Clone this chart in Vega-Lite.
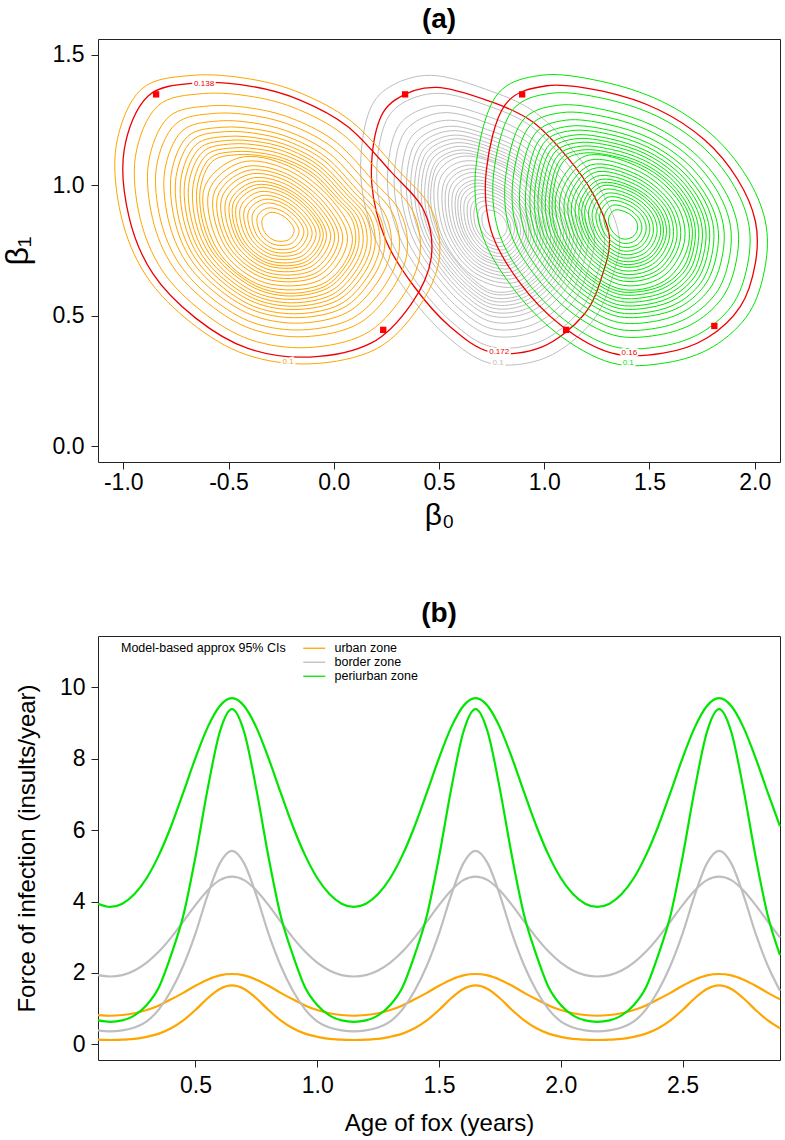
{
"$schema": "https://vega.github.io/schema/vega-lite/v6.json",
"padding": {"left": 0, "top": 5, "right": 0, "bottom": 0},
"bounds": "flush",
"spacing": 174,
"resolve": {"scale": {"color": "independent"}, "legend": {"color": "independent"}},
"config": {
  "font": "Liberation Sans",
  "view": {"stroke": "#222", "strokeWidth": 1},
  "axis": {"grid": false, "domain": false, "tickColor": "#222", "tickSize": 7, "labelColor": "#000", "titleColor": "#000", "titleFontWeight": "normal", "labelFontSize": 23, "titleFontSize": 24, "labelFlush": false},
  "title": {"fontSize": 28, "fontWeight": "bold", "color": "#000", "anchor": "middle", "frame": "group"}
},
"datasets": {
"u": [
{"l":0.1,"x":-0.668,"y":1.421},{"l":0.1,"x":-0.392,"y":1.406},{"l":0.1,"x":-0.155,"y":1.352},{"l":0.1,"x":0.083,"y":1.245},{"l":0.1,"x":0.297,"y":1.065},{"l":0.1,"x":0.463,"y":0.909},{"l":0.1,"x":0.501,"y":0.717},{"l":0.1,"x":0.401,"y":0.530},{"l":0.1,"x":0.202,"y":0.373},{"l":0.1,"x":-0.107,"y":0.316},{"l":0.1,"x":-0.416,"y":0.351},{"l":0.1,"x":-0.677,"y":0.473},{"l":0.1,"x":-0.891,"y":0.653},{"l":0.1,"x":-1.010,"y":0.882},{"l":0.1,"x":-1.034,"y":1.149},{"l":0.1,"x":-0.915,"y":1.367},
{"l":0.2,"x":-0.620,"y":1.351},{"l":0.2,"x":-0.377,"y":1.338},{"l":0.2,"x":-0.168,"y":1.290},{"l":0.2,"x":0.041,"y":1.196},{"l":0.2,"x":0.230,"y":1.038},{"l":0.2,"x":0.376,"y":0.900},{"l":0.2,"x":0.409,"y":0.731},{"l":0.2,"x":0.321,"y":0.567},{"l":0.2,"x":0.146,"y":0.429},{"l":0.2,"x":-0.126,"y":0.378},{"l":0.2,"x":-0.398,"y":0.409},{"l":0.2,"x":-0.627,"y":0.517},{"l":0.2,"x":-0.816,"y":0.675},{"l":0.2,"x":-0.921,"y":0.877},{"l":0.2,"x":-0.942,"y":1.111},{"l":0.2,"x":-0.837,"y":1.303},
{"l":0.3,"x":-0.587,"y":1.304},{"l":0.3,"x":-0.366,"y":1.292},{"l":0.3,"x":-0.177,"y":1.249},{"l":0.3,"x":0.014,"y":1.163},{"l":0.3,"x":0.185,"y":1.019},{"l":0.3,"x":0.318,"y":0.894},{"l":0.3,"x":0.348,"y":0.741},{"l":0.3,"x":0.268,"y":0.591},{"l":0.3,"x":0.109,"y":0.466},{"l":0.3,"x":-0.138,"y":0.420},{"l":0.3,"x":-0.386,"y":0.448},{"l":0.3,"x":-0.594,"y":0.546},{"l":0.3,"x":-0.766,"y":0.690},{"l":0.3,"x":-0.861,"y":0.873},{"l":0.3,"x":-0.880,"y":1.086},{"l":0.3,"x":-0.785,"y":1.261},
{"l":0.4,"x":-0.567,"y":1.275},{"l":0.4,"x":-0.360,"y":1.264},{"l":0.4,"x":-0.182,"y":1.223},{"l":0.4,"x":-0.004,"y":1.143},{"l":0.4,"x":0.157,"y":1.008},{"l":0.4,"x":0.281,"y":0.891},{"l":0.4,"x":0.310,"y":0.747},{"l":0.4,"x":0.235,"y":0.607},{"l":0.4,"x":0.086,"y":0.489},{"l":0.4,"x":-0.146,"y":0.446},{"l":0.4,"x":-0.378,"y":0.472},{"l":0.4,"x":-0.574,"y":0.564},{"l":0.4,"x":-0.734,"y":0.699},{"l":0.4,"x":-0.824,"y":0.871},{"l":0.4,"x":-0.842,"y":1.071},{"l":0.4,"x":-0.752,"y":1.234},
{"l":0.5,"x":-0.547,"y":1.246},{"l":0.5,"x":-0.354,"y":1.235},{"l":0.5,"x":-0.188,"y":1.197},{"l":0.5,"x":-0.021,"y":1.122},{"l":0.5,"x":0.129,"y":0.996},{"l":0.5,"x":0.245,"y":0.887},{"l":0.5,"x":0.272,"y":0.753},{"l":0.5,"x":0.202,"y":0.622},{"l":0.5,"x":0.062,"y":0.512},{"l":0.5,"x":-0.154,"y":0.472},{"l":0.5,"x":-0.370,"y":0.497},{"l":0.5,"x":-0.553,"y":0.582},{"l":0.5,"x":-0.703,"y":0.708},{"l":0.5,"x":-0.786,"y":0.868},{"l":0.5,"x":-0.803,"y":1.055},{"l":0.5,"x":-0.720,"y":1.208},
{"l":0.6,"x":-0.531,"y":1.222},{"l":0.6,"x":-0.349,"y":1.212},{"l":0.6,"x":-0.192,"y":1.177},{"l":0.6,"x":-0.035,"y":1.106},{"l":0.6,"x":0.106,"y":0.987},{"l":0.6,"x":0.216,"y":0.884},{"l":0.6,"x":0.241,"y":0.758},{"l":0.6,"x":0.175,"y":0.634},{"l":0.6,"x":0.044,"y":0.530},{"l":0.6,"x":-0.160,"y":0.493},{"l":0.6,"x":-0.364,"y":0.516},{"l":0.6,"x":-0.537,"y":0.596},{"l":0.6,"x":-0.678,"y":0.715},{"l":0.6,"x":-0.756,"y":0.866},{"l":0.6,"x":-0.772,"y":1.043},{"l":0.6,"x":-0.694,"y":1.187},
{"l":0.7,"x":-0.519,"y":1.205},{"l":0.7,"x":-0.345,"y":1.195},{"l":0.7,"x":-0.195,"y":1.161},{"l":0.7,"x":-0.045,"y":1.094},{"l":0.7,"x":0.089,"y":0.980},{"l":0.7,"x":0.194,"y":0.882},{"l":0.7,"x":0.218,"y":0.761},{"l":0.7,"x":0.155,"y":0.643},{"l":0.7,"x":0.030,"y":0.544},{"l":0.7,"x":-0.165,"y":0.508},{"l":0.7,"x":-0.360,"y":0.530},{"l":0.7,"x":-0.524,"y":0.607},{"l":0.7,"x":-0.659,"y":0.721},{"l":0.7,"x":-0.734,"y":0.865},{"l":0.7,"x":-0.749,"y":1.033},{"l":0.7,"x":-0.674,"y":1.171},
{"l":0.8,"x":-0.506,"y":1.187},{"l":0.8,"x":-0.341,"y":1.178},{"l":0.8,"x":-0.199,"y":1.146},{"l":0.8,"x":-0.056,"y":1.081},{"l":0.8,"x":0.073,"y":0.973},{"l":0.8,"x":0.172,"y":0.880},{"l":0.8,"x":0.195,"y":0.765},{"l":0.8,"x":0.135,"y":0.652},{"l":0.8,"x":0.016,"y":0.558},{"l":0.8,"x":-0.170,"y":0.524},{"l":0.8,"x":-0.355,"y":0.545},{"l":0.8,"x":-0.512,"y":0.618},{"l":0.8,"x":-0.640,"y":0.726},{"l":0.8,"x":-0.712,"y":0.864},{"l":0.8,"x":-0.726,"y":1.024},{"l":0.8,"x":-0.655,"y":1.155},
{"l":0.9,"x":-0.496,"y":1.172},{"l":0.9,"x":-0.338,"y":1.164},{"l":0.9,"x":-0.201,"y":1.133},{"l":0.9,"x":-0.065,"y":1.071},{"l":0.9,"x":0.059,"y":0.968},{"l":0.9,"x":0.154,"y":0.878},{"l":0.9,"x":0.176,"y":0.768},{"l":0.9,"x":0.118,"y":0.660},{"l":0.9,"x":0.004,"y":0.570},{"l":0.9,"x":-0.174,"y":0.537},{"l":0.9,"x":-0.351,"y":0.557},{"l":0.9,"x":-0.502,"y":0.627},{"l":0.9,"x":-0.625,"y":0.731},{"l":0.9,"x":-0.693,"y":0.863},{"l":0.9,"x":-0.707,"y":1.016},{"l":0.9,"x":-0.638,"y":1.141},
{"l":1.0,"x":-0.486,"y":1.158},{"l":1.0,"x":-0.334,"y":1.150},{"l":1.0,"x":-0.204,"y":1.120},{"l":1.0,"x":-0.073,"y":1.061},{"l":1.0,"x":0.045,"y":0.962},{"l":1.0,"x":0.136,"y":0.876},{"l":1.0,"x":0.157,"y":0.771},{"l":1.0,"x":0.102,"y":0.668},{"l":1.0,"x":-0.008,"y":0.581},{"l":1.0,"x":-0.178,"y":0.550},{"l":1.0,"x":-0.348,"y":0.569},{"l":1.0,"x":-0.491,"y":0.636},{"l":1.0,"x":-0.609,"y":0.735},{"l":1.0,"x":-0.674,"y":0.861},{"l":1.0,"x":-0.688,"y":1.008},{"l":1.0,"x":-0.622,"y":1.128},
{"l":1.1,"x":-0.476,"y":1.143},{"l":1.1,"x":-0.331,"y":1.135},{"l":1.1,"x":-0.207,"y":1.107},{"l":1.1,"x":-0.082,"y":1.051},{"l":1.1,"x":0.031,"y":0.956},{"l":1.1,"x":0.118,"y":0.874},{"l":1.1,"x":0.138,"y":0.774},{"l":1.1,"x":0.085,"y":0.675},{"l":1.1,"x":-0.019,"y":0.593},{"l":1.1,"x":-0.182,"y":0.563},{"l":1.1,"x":-0.344,"y":0.581},{"l":1.1,"x":-0.481,"y":0.645},{"l":1.1,"x":-0.593,"y":0.740},{"l":1.1,"x":-0.656,"y":0.860},{"l":1.1,"x":-0.668,"y":1.000},{"l":1.1,"x":-0.606,"y":1.115},
{"l":1.2,"x":-0.466,"y":1.129},{"l":1.2,"x":-0.328,"y":1.121},{"l":1.2,"x":-0.210,"y":1.094},{"l":1.2,"x":-0.091,"y":1.041},{"l":1.2,"x":0.017,"y":0.951},{"l":1.2,"x":0.100,"y":0.873},{"l":1.2,"x":0.119,"y":0.777},{"l":1.2,"x":0.069,"y":0.683},{"l":1.2,"x":-0.031,"y":0.605},{"l":1.2,"x":-0.186,"y":0.576},{"l":1.2,"x":-0.340,"y":0.594},{"l":1.2,"x":-0.471,"y":0.655},{"l":1.2,"x":-0.578,"y":0.745},{"l":1.2,"x":-0.637,"y":0.859},{"l":1.2,"x":-0.649,"y":0.993},{"l":1.2,"x":-0.590,"y":1.102},
{"l":1.3,"x":-0.458,"y":1.117},{"l":1.3,"x":-0.325,"y":1.110},{"l":1.3,"x":-0.212,"y":1.084},{"l":1.3,"x":-0.097,"y":1.032},{"l":1.3,"x":0.005,"y":0.946},{"l":1.3,"x":0.085,"y":0.871},{"l":1.3,"x":0.103,"y":0.779},{"l":1.3,"x":0.055,"y":0.689},{"l":1.3,"x":-0.040,"y":0.614},{"l":1.3,"x":-0.189,"y":0.586},{"l":1.3,"x":-0.337,"y":0.603},{"l":1.3,"x":-0.462,"y":0.662},{"l":1.3,"x":-0.565,"y":0.748},{"l":1.3,"x":-0.622,"y":0.858},{"l":1.3,"x":-0.634,"y":0.986},{"l":1.3,"x":-0.577,"y":1.091},
{"l":1.4,"x":-0.450,"y":1.105},{"l":1.4,"x":-0.214,"y":1.073},{"l":1.4,"x":-0.006,"y":0.941},{"l":1.4,"x":0.088,"y":0.781},{"l":1.4,"x":-0.050,"y":0.623},{"l":1.4,"x":-0.334,"y":0.613},{"l":1.4,"x":-0.552,"y":0.752},{"l":1.4,"x":-0.618,"y":0.980},
{"l":1.55,"x":-0.438,"y":1.088},{"l":1.55,"x":-0.217,"y":1.058},{"l":1.55,"x":-0.023,"y":0.935},{"l":1.55,"x":0.065,"y":0.785},{"l":1.55,"x":-0.064,"y":0.637},{"l":1.55,"x":-0.329,"y":0.627},{"l":1.55,"x":-0.534,"y":0.757},{"l":1.55,"x":-0.595,"y":0.971},
{"l":1.7,"x":-0.426,"y":1.070},{"l":1.7,"x":-0.220,"y":1.042},{"l":1.7,"x":-0.040,"y":0.928},{"l":1.7,"x":0.042,"y":0.788},{"l":1.7,"x":-0.078,"y":0.651},{"l":1.7,"x":-0.325,"y":0.642},{"l":1.7,"x":-0.515,"y":0.763},{"l":1.7,"x":-0.572,"y":0.961},
{"l":1.85,"x":-0.416,"y":1.055},{"l":1.85,"x":-0.223,"y":1.030},{"l":1.85,"x":-0.054,"y":0.922},{"l":1.85,"x":0.023,"y":0.791},{"l":1.85,"x":-0.089,"y":0.662},{"l":1.85,"x":-0.321,"y":0.654},{"l":1.85,"x":-0.499,"y":0.767},{"l":1.85,"x":-0.553,"y":0.953},
{"l":2.0,"x":-0.405,"y":1.041},{"l":2.0,"x":-0.226,"y":1.017},{"l":2.0,"x":-0.068,"y":0.916},{"l":2.0,"x":0.004,"y":0.794},{"l":2.0,"x":-0.101,"y":0.674},{"l":2.0,"x":-0.317,"y":0.666},{"l":2.0,"x":-0.484,"y":0.772},{"l":2.0,"x":-0.534,"y":0.946},
{"l":2.15,"x":-0.395,"y":1.026},{"l":2.15,"x":-0.229,"y":1.004},{"l":2.15,"x":-0.082,"y":0.910},{"l":2.15,"x":-0.015,"y":0.797},{"l":2.15,"x":-0.113,"y":0.686},{"l":2.15,"x":-0.313,"y":0.678},{"l":2.15,"x":-0.468,"y":0.777},{"l":2.15,"x":-0.514,"y":0.938},
{"l":2.3,"x":-0.385,"y":1.012},{"l":2.3,"x":-0.231,"y":0.991},{"l":2.3,"x":-0.096,"y":0.905},{"l":2.3,"x":-0.035,"y":0.800},{"l":2.3,"x":-0.124,"y":0.697},{"l":2.3,"x":-0.310,"y":0.691},{"l":2.3,"x":-0.452,"y":0.781},{"l":2.3,"x":-0.495,"y":0.930},
{"l":2.45,"x":-0.377,"y":1.000},{"l":2.45,"x":-0.234,"y":0.981},{"l":2.45,"x":-0.107,"y":0.900},{"l":2.45,"x":-0.050,"y":0.803},{"l":2.45,"x":-0.134,"y":0.706},{"l":2.45,"x":-0.307,"y":0.700},{"l":2.45,"x":-0.440,"y":0.785},{"l":2.45,"x":-0.480,"y":0.924},
{"l":2.6,"x":-0.369,"y":0.988},{"l":2.6,"x":-0.236,"y":0.970},{"l":2.6,"x":-0.118,"y":0.896},{"l":2.6,"x":-0.065,"y":0.805},{"l":2.6,"x":-0.143,"y":0.716},{"l":2.6,"x":-0.304,"y":0.710},{"l":2.6,"x":-0.427,"y":0.788},{"l":2.6,"x":-0.464,"y":0.917},
{"l":2.75,"x":-0.359,"y":0.974},{"l":2.75,"x":-0.238,"y":0.957},{"l":2.75,"x":-0.132,"y":0.890},{"l":2.75,"x":-0.084,"y":0.808},{"l":2.75,"x":-0.155,"y":0.727},{"l":2.75,"x":-0.300,"y":0.722},{"l":2.75,"x":-0.411,"y":0.793},{"l":2.75,"x":-0.445,"y":0.910},
{"l":2.9,"x":-0.349,"y":0.959},{"l":2.9,"x":-0.241,"y":0.944},{"l":2.9,"x":-0.146,"y":0.884},{"l":2.9,"x":-0.103,"y":0.811},{"l":2.9,"x":-0.166,"y":0.739},{"l":2.9,"x":-0.296,"y":0.734},{"l":2.9,"x":-0.396,"y":0.798},{"l":2.9,"x":-0.426,"y":0.902},
{"l":3.05,"x":-0.339,"y":0.944},{"l":3.05,"x":-0.244,"y":0.932},{"l":3.05,"x":-0.160,"y":0.878},{"l":3.05,"x":-0.123,"y":0.814},{"l":3.05,"x":-0.178,"y":0.750},{"l":3.05,"x":-0.292,"y":0.746},{"l":3.05,"x":-0.380,"y":0.802},{"l":3.05,"x":-0.407,"y":0.894},
{"l":3.2,"x":-0.329,"y":0.930},{"l":3.2,"x":-0.247,"y":0.919},{"l":3.2,"x":-0.174,"y":0.873},{"l":3.2,"x":-0.142,"y":0.817},{"l":3.2,"x":-0.189,"y":0.762},{"l":3.2,"x":-0.288,"y":0.758},{"l":3.2,"x":-0.364,"y":0.807},{"l":3.2,"x":-0.387,"y":0.886},
{"l":3.35,"x":-0.317,"y":0.912},{"l":3.35,"x":-0.250,"y":0.903},{"l":3.35,"x":-0.191,"y":0.866},{"l":3.35,"x":-0.165,"y":0.821},{"l":3.35,"x":-0.203,"y":0.776},{"l":3.35,"x":-0.284,"y":0.773},{"l":3.35,"x":-0.346,"y":0.812},{"l":3.35,"x":-0.364,"y":0.877},
{"l":3.5,"x":-0.304,"y":0.895},{"l":3.5,"x":-0.253,"y":0.888},{"l":3.5,"x":-0.208,"y":0.859},{"l":3.5,"x":-0.188,"y":0.824},{"l":3.5,"x":-0.217,"y":0.790},{"l":3.5,"x":-0.279,"y":0.788},{"l":3.5,"x":-0.327,"y":0.818},{"l":3.5,"x":-0.341,"y":0.867}
],
"b": [
{"l":0.1,"x":0.463,"y":1.421},{"l":0.1,"x":0.748,"y":1.360},{"l":0.1,"x":0.962,"y":1.276},{"l":0.1,"x":1.142,"y":1.127},{"l":0.1,"x":1.271,"y":0.978},{"l":0.1,"x":1.356,"y":0.802},{"l":0.1,"x":1.318,"y":0.634},{"l":0.1,"x":1.223,"y":0.473},{"l":0.1,"x":1.009,"y":0.340},{"l":0.1,"x":0.748,"y":0.317},{"l":0.1,"x":0.534,"y":0.424},{"l":0.1,"x":0.344,"y":0.596},{"l":0.1,"x":0.201,"y":0.787},{"l":0.1,"x":0.130,"y":1.016},{"l":0.1,"x":0.154,"y":1.246},{"l":0.1,"x":0.249,"y":1.368},
{"l":0.2,"x":0.500,"y":1.352},{"l":0.2,"x":0.750,"y":1.299},{"l":0.2,"x":0.939,"y":1.225},{"l":0.2,"x":1.097,"y":1.094},{"l":0.2,"x":1.211,"y":0.962},{"l":0.2,"x":1.285,"y":0.808},{"l":0.2,"x":1.252,"y":0.660},{"l":0.2,"x":1.168,"y":0.518},{"l":0.2,"x":0.980,"y":0.401},{"l":0.2,"x":0.750,"y":0.381},{"l":0.2,"x":0.562,"y":0.475},{"l":0.2,"x":0.395,"y":0.626},{"l":0.2,"x":0.269,"y":0.794},{"l":0.2,"x":0.206,"y":0.996},{"l":0.2,"x":0.228,"y":1.198},{"l":0.2,"x":0.311,"y":1.306},
{"l":0.3,"x":0.524,"y":1.306},{"l":0.3,"x":0.752,"y":1.258},{"l":0.3,"x":0.923,"y":1.190},{"l":0.3,"x":1.067,"y":1.071},{"l":0.3,"x":1.170,"y":0.952},{"l":0.3,"x":1.238,"y":0.811},{"l":0.3,"x":1.208,"y":0.677},{"l":0.3,"x":1.132,"y":0.548},{"l":0.3,"x":0.961,"y":0.442},{"l":0.3,"x":0.752,"y":0.423},{"l":0.3,"x":0.581,"y":0.509},{"l":0.3,"x":0.429,"y":0.646},{"l":0.3,"x":0.314,"y":0.799},{"l":0.3,"x":0.257,"y":0.982},{"l":0.3,"x":0.277,"y":1.166},{"l":0.3,"x":0.353,"y":1.264},
{"l":0.4,"x":0.539,"y":1.278},{"l":0.4,"x":0.753,"y":1.232},{"l":0.4,"x":0.913,"y":1.169},{"l":0.4,"x":1.048,"y":1.057},{"l":0.4,"x":1.145,"y":0.946},{"l":0.4,"x":1.209,"y":0.814},{"l":0.4,"x":1.180,"y":0.688},{"l":0.4,"x":1.109,"y":0.567},{"l":0.4,"x":0.949,"y":0.467},{"l":0.4,"x":0.753,"y":0.450},{"l":0.4,"x":0.592,"y":0.530},{"l":0.4,"x":0.450,"y":0.659},{"l":0.4,"x":0.343,"y":0.802},{"l":0.4,"x":0.289,"y":0.974},{"l":0.4,"x":0.307,"y":1.147},{"l":0.4,"x":0.379,"y":1.238},
{"l":0.5,"x":0.554,"y":1.249},{"l":0.5,"x":0.754,"y":1.206},{"l":0.5,"x":0.904,"y":1.148},{"l":0.5,"x":1.030,"y":1.043},{"l":0.5,"x":1.120,"y":0.939},{"l":0.5,"x":1.179,"y":0.816},{"l":0.5,"x":1.153,"y":0.698},{"l":0.5,"x":1.086,"y":0.586},{"l":0.5,"x":0.936,"y":0.492},{"l":0.5,"x":0.754,"y":0.476},{"l":0.5,"x":0.604,"y":0.551},{"l":0.5,"x":0.471,"y":0.672},{"l":0.5,"x":0.371,"y":0.805},{"l":0.5,"x":0.321,"y":0.966},{"l":0.5,"x":0.338,"y":1.127},{"l":0.5,"x":0.404,"y":1.212},
{"l":0.6,"x":0.566,"y":1.226},{"l":0.6,"x":0.755,"y":1.186},{"l":0.6,"x":0.896,"y":1.131},{"l":0.6,"x":1.015,"y":1.032},{"l":0.6,"x":1.100,"y":0.934},{"l":0.6,"x":1.156,"y":0.818},{"l":0.6,"x":1.131,"y":0.707},{"l":0.6,"x":1.068,"y":0.601},{"l":0.6,"x":0.927,"y":0.513},{"l":0.6,"x":0.755,"y":0.498},{"l":0.6,"x":0.613,"y":0.568},{"l":0.6,"x":0.488,"y":0.682},{"l":0.6,"x":0.393,"y":0.808},{"l":0.6,"x":0.347,"y":0.959},{"l":0.6,"x":0.362,"y":1.111},{"l":0.6,"x":0.425,"y":1.191},
{"l":0.7,"x":0.576,"y":1.209},{"l":0.7,"x":0.755,"y":1.171},{"l":0.7,"x":0.890,"y":1.118},{"l":0.7,"x":1.003,"y":1.024},{"l":0.7,"x":1.085,"y":0.930},{"l":0.7,"x":1.138,"y":0.819},{"l":0.7,"x":1.114,"y":0.713},{"l":0.7,"x":1.054,"y":0.612},{"l":0.7,"x":0.920,"y":0.528},{"l":0.7,"x":0.755,"y":0.514},{"l":0.7,"x":0.620,"y":0.581},{"l":0.7,"x":0.501,"y":0.689},{"l":0.7,"x":0.410,"y":0.810},{"l":0.7,"x":0.366,"y":0.954},{"l":0.7,"x":0.381,"y":1.099},{"l":0.7,"x":0.441,"y":1.176},
{"l":0.8,"x":0.585,"y":1.192},{"l":0.8,"x":0.756,"y":1.155},{"l":0.8,"x":0.884,"y":1.105},{"l":0.8,"x":0.992,"y":1.015},{"l":0.8,"x":1.069,"y":0.926},{"l":0.8,"x":1.120,"y":0.820},{"l":0.8,"x":1.098,"y":0.720},{"l":0.8,"x":1.041,"y":0.623},{"l":0.8,"x":0.912,"y":0.543},{"l":0.8,"x":0.756,"y":0.529},{"l":0.8,"x":0.627,"y":0.594},{"l":0.8,"x":0.513,"y":0.697},{"l":0.8,"x":0.427,"y":0.811},{"l":0.8,"x":0.385,"y":0.949},{"l":0.8,"x":0.399,"y":1.087},{"l":0.8,"x":0.456,"y":1.160},
{"l":0.9,"x":0.592,"y":1.178},{"l":0.9,"x":0.756,"y":1.142},{"l":0.9,"x":0.879,"y":1.094},{"l":0.9,"x":0.983,"y":1.008},{"l":0.9,"x":1.057,"y":0.923},{"l":0.9,"x":1.106,"y":0.822},{"l":0.9,"x":1.084,"y":0.725},{"l":0.9,"x":1.029,"y":0.632},{"l":0.9,"x":0.906,"y":0.556},{"l":0.9,"x":0.756,"y":0.543},{"l":0.9,"x":0.633,"y":0.604},{"l":0.9,"x":0.524,"y":0.703},{"l":0.9,"x":0.442,"y":0.813},{"l":0.9,"x":0.401,"y":0.945},{"l":0.9,"x":0.415,"y":1.077},{"l":0.9,"x":0.469,"y":1.147},
{"l":1.0,"x":0.600,"y":1.163},{"l":1.0,"x":0.757,"y":1.130},{"l":1.0,"x":0.874,"y":1.083},{"l":1.0,"x":0.973,"y":1.002},{"l":1.0,"x":1.044,"y":0.920},{"l":1.0,"x":1.091,"y":0.823},{"l":1.0,"x":1.070,"y":0.730},{"l":1.0,"x":1.018,"y":0.642},{"l":1.0,"x":0.900,"y":0.569},{"l":1.0,"x":0.757,"y":0.556},{"l":1.0,"x":0.639,"y":0.615},{"l":1.0,"x":0.534,"y":0.709},{"l":1.0,"x":0.456,"y":0.814},{"l":1.0,"x":0.417,"y":0.940},{"l":1.0,"x":0.430,"y":1.067},{"l":1.0,"x":0.482,"y":1.134},
{"l":1.1,"x":0.607,"y":1.149},{"l":1.1,"x":0.757,"y":1.117},{"l":1.1,"x":0.869,"y":1.073},{"l":1.1,"x":0.964,"y":0.995},{"l":1.1,"x":1.032,"y":0.916},{"l":1.1,"x":1.076,"y":0.824},{"l":1.1,"x":1.056,"y":0.736},{"l":1.1,"x":1.006,"y":0.651},{"l":1.1,"x":0.894,"y":0.581},{"l":1.1,"x":0.757,"y":0.569},{"l":1.1,"x":0.645,"y":0.625},{"l":1.1,"x":0.545,"y":0.716},{"l":1.1,"x":0.470,"y":0.816},{"l":1.1,"x":0.433,"y":0.936},{"l":1.1,"x":0.445,"y":1.057},{"l":1.1,"x":0.495,"y":1.121},
{"l":1.2,"x":0.615,"y":1.135},{"l":1.2,"x":0.758,"y":1.104},{"l":1.2,"x":0.865,"y":1.062},{"l":1.2,"x":0.955,"y":0.988},{"l":1.2,"x":1.019,"y":0.913},{"l":1.2,"x":1.062,"y":0.825},{"l":1.2,"x":1.043,"y":0.741},{"l":1.2,"x":0.995,"y":0.661},{"l":1.2,"x":0.888,"y":0.594},{"l":1.2,"x":0.758,"y":0.583},{"l":1.2,"x":0.651,"y":0.636},{"l":1.2,"x":0.556,"y":0.722},{"l":1.2,"x":0.484,"y":0.818},{"l":1.2,"x":0.449,"y":0.932},{"l":1.2,"x":0.461,"y":1.047},{"l":1.2,"x":0.508,"y":1.108},
{"l":1.3,"x":0.621,"y":1.123},{"l":1.3,"x":0.758,"y":1.094},{"l":1.3,"x":0.861,"y":1.053},{"l":1.3,"x":0.947,"y":0.982},{"l":1.3,"x":1.009,"y":0.910},{"l":1.3,"x":1.050,"y":0.826},{"l":1.3,"x":1.032,"y":0.745},{"l":1.3,"x":0.986,"y":0.668},{"l":1.3,"x":0.883,"y":0.604},{"l":1.3,"x":0.758,"y":0.593},{"l":1.3,"x":0.655,"y":0.645},{"l":1.3,"x":0.564,"y":0.727},{"l":1.3,"x":0.495,"y":0.819},{"l":1.3,"x":0.461,"y":0.929},{"l":1.3,"x":0.473,"y":1.039},{"l":1.3,"x":0.518,"y":1.098},
{"l":1.4,"x":0.627,"y":1.112},{"l":1.4,"x":0.857,"y":1.045},{"l":1.4,"x":0.999,"y":0.908},{"l":1.4,"x":1.021,"y":0.750},{"l":1.4,"x":0.878,"y":0.614},{"l":1.4,"x":0.660,"y":0.653},{"l":1.4,"x":0.507,"y":0.820},{"l":1.4,"x":0.485,"y":1.031},
{"l":1.55,"x":0.636,"y":1.094},{"l":1.55,"x":0.851,"y":1.032},{"l":1.55,"x":0.984,"y":0.904},{"l":1.55,"x":1.004,"y":0.756},{"l":1.55,"x":0.871,"y":0.630},{"l":1.55,"x":0.667,"y":0.666},{"l":1.55,"x":0.524,"y":0.822},{"l":1.55,"x":0.503,"y":1.019},
{"l":1.7,"x":0.645,"y":1.077},{"l":1.7,"x":0.845,"y":1.019},{"l":1.7,"x":0.969,"y":0.900},{"l":1.7,"x":0.987,"y":0.762},{"l":1.7,"x":0.864,"y":0.645},{"l":1.7,"x":0.674,"y":0.678},{"l":1.7,"x":0.541,"y":0.824},{"l":1.7,"x":0.522,"y":1.007},
{"l":1.85,"x":0.653,"y":1.063},{"l":1.85,"x":0.840,"y":1.009},{"l":1.85,"x":0.956,"y":0.897},{"l":1.85,"x":0.974,"y":0.768},{"l":1.85,"x":0.858,"y":0.658},{"l":1.85,"x":0.680,"y":0.689},{"l":1.85,"x":0.555,"y":0.825},{"l":1.85,"x":0.537,"y":0.997},
{"l":2.0,"x":0.661,"y":1.049},{"l":2.0,"x":0.835,"y":0.998},{"l":2.0,"x":0.943,"y":0.894},{"l":2.0,"x":0.960,"y":0.773},{"l":2.0,"x":0.852,"y":0.670},{"l":2.0,"x":0.685,"y":0.700},{"l":2.0,"x":0.569,"y":0.827},{"l":2.0,"x":0.552,"y":0.987},
{"l":2.15,"x":0.668,"y":1.034},{"l":2.15,"x":0.830,"y":0.987},{"l":2.15,"x":0.931,"y":0.890},{"l":2.15,"x":0.946,"y":0.778},{"l":2.15,"x":0.846,"y":0.683},{"l":2.15,"x":0.691,"y":0.710},{"l":2.15,"x":0.583,"y":0.828},{"l":2.15,"x":0.568,"y":0.977},
{"l":2.3,"x":0.676,"y":1.020},{"l":2.3,"x":0.826,"y":0.976},{"l":2.3,"x":0.918,"y":0.887},{"l":2.3,"x":0.932,"y":0.784},{"l":2.3,"x":0.840,"y":0.696},{"l":2.3,"x":0.697,"y":0.721},{"l":2.3,"x":0.597,"y":0.830},{"l":2.3,"x":0.583,"y":0.967},
{"l":2.45,"x":0.682,"y":1.008},{"l":2.45,"x":0.822,"y":0.968},{"l":2.45,"x":0.908,"y":0.884},{"l":2.45,"x":0.921,"y":0.788},{"l":2.45,"x":0.835,"y":0.706},{"l":2.45,"x":0.702,"y":0.729},{"l":2.45,"x":0.609,"y":0.831},{"l":2.45,"x":0.595,"y":0.959},
{"l":2.6,"x":0.688,"y":0.997},{"l":2.6,"x":0.818,"y":0.959},{"l":2.6,"x":0.898,"y":0.882},{"l":2.6,"x":0.910,"y":0.792},{"l":2.6,"x":0.830,"y":0.716},{"l":2.6,"x":0.706,"y":0.738},{"l":2.6,"x":0.620,"y":0.832},{"l":2.6,"x":0.608,"y":0.952},
{"l":2.75,"x":0.696,"y":0.983},{"l":2.75,"x":0.813,"y":0.949},{"l":2.75,"x":0.885,"y":0.879},{"l":2.75,"x":0.897,"y":0.798},{"l":2.75,"x":0.824,"y":0.729},{"l":2.75,"x":0.712,"y":0.748},{"l":2.75,"x":0.634,"y":0.834},{"l":2.75,"x":0.623,"y":0.942},
{"l":2.9,"x":0.703,"y":0.968},{"l":2.9,"x":0.808,"y":0.938},{"l":2.9,"x":0.873,"y":0.875},{"l":2.9,"x":0.883,"y":0.803},{"l":2.9,"x":0.818,"y":0.741},{"l":2.9,"x":0.718,"y":0.759},{"l":2.9,"x":0.648,"y":0.835},{"l":2.9,"x":0.638,"y":0.932},
{"l":3.05,"x":0.711,"y":0.954},{"l":3.05,"x":0.803,"y":0.927},{"l":3.05,"x":0.860,"y":0.872},{"l":3.05,"x":0.869,"y":0.808},{"l":3.05,"x":0.812,"y":0.754},{"l":3.05,"x":0.724,"y":0.770},{"l":3.05,"x":0.662,"y":0.837},{"l":3.05,"x":0.654,"y":0.922},
{"l":3.2,"x":0.718,"y":0.940},{"l":3.2,"x":0.798,"y":0.917},{"l":3.2,"x":0.848,"y":0.869},{"l":3.2,"x":0.855,"y":0.814},{"l":3.2,"x":0.806,"y":0.767},{"l":3.2,"x":0.730,"y":0.780},{"l":3.2,"x":0.676,"y":0.838},{"l":3.2,"x":0.669,"y":0.912},
{"l":3.35,"x":0.728,"y":0.923},{"l":3.35,"x":0.792,"y":0.904},{"l":3.35,"x":0.833,"y":0.865},{"l":3.35,"x":0.839,"y":0.820},{"l":3.35,"x":0.799,"y":0.782},{"l":3.35,"x":0.737,"y":0.793},{"l":3.35,"x":0.693,"y":0.840},{"l":3.35,"x":0.687,"y":0.900},
{"l":3.5,"x":0.737,"y":0.905},{"l":3.5,"x":0.787,"y":0.891},{"l":3.5,"x":0.817,"y":0.861},{"l":3.5,"x":0.822,"y":0.827},{"l":3.5,"x":0.791,"y":0.797},{"l":3.5,"x":0.744,"y":0.806},{"l":3.5,"x":0.710,"y":0.842},{"l":3.5,"x":0.706,"y":0.888}
],
"p": [
{"l":0.1,"x":0.985,"y":1.421},{"l":0.1,"x":1.270,"y":1.398},{"l":0.1,"x":1.556,"y":1.322},{"l":0.1,"x":1.793,"y":1.196},{"l":0.1,"x":1.960,"y":1.035},{"l":0.1,"x":2.050,"y":0.863},{"l":0.1,"x":2.050,"y":0.691},{"l":0.1,"x":1.974,"y":0.512},{"l":0.1,"x":1.803,"y":0.382},{"l":0.1,"x":1.579,"y":0.320},{"l":0.1,"x":1.318,"y":0.320},{"l":0.1,"x":1.057,"y":0.435},{"l":0.1,"x":0.843,"y":0.615},{"l":0.1,"x":0.700,"y":0.825},{"l":0.1,"x":0.676,"y":1.074},{"l":0.1,"x":0.771,"y":1.341},
{"l":0.2,"x":1.032,"y":1.352},{"l":0.2,"x":1.283,"y":1.332},{"l":0.2,"x":1.534,"y":1.265},{"l":0.2,"x":1.743,"y":1.154},{"l":0.2,"x":1.890,"y":1.013},{"l":0.2,"x":1.969,"y":0.861},{"l":0.2,"x":1.969,"y":0.710},{"l":0.2,"x":1.902,"y":0.552},{"l":0.2,"x":1.752,"y":0.438},{"l":0.2,"x":1.555,"y":0.383},{"l":0.2,"x":1.325,"y":0.383},{"l":0.2,"x":1.095,"y":0.485},{"l":0.2,"x":0.907,"y":0.643},{"l":0.2,"x":0.781,"y":0.828},{"l":0.2,"x":0.760,"y":1.047},{"l":0.2,"x":0.844,"y":1.282},
{"l":0.3,"x":1.063,"y":1.306},{"l":0.3,"x":1.291,"y":1.288},{"l":0.3,"x":1.520,"y":1.227},{"l":0.3,"x":1.709,"y":1.126},{"l":0.3,"x":1.843,"y":0.998},{"l":0.3,"x":1.915,"y":0.860},{"l":0.3,"x":1.915,"y":0.722},{"l":0.3,"x":1.854,"y":0.579},{"l":0.3,"x":1.717,"y":0.475},{"l":0.3,"x":1.538,"y":0.426},{"l":0.3,"x":1.329,"y":0.426},{"l":0.3,"x":1.121,"y":0.518},{"l":0.3,"x":0.949,"y":0.662},{"l":0.3,"x":0.835,"y":0.830},{"l":0.3,"x":0.816,"y":1.029},{"l":0.3,"x":0.892,"y":1.242},
{"l":0.4,"x":1.083,"y":1.278},{"l":0.4,"x":1.296,"y":1.261},{"l":0.4,"x":1.511,"y":1.204},{"l":0.4,"x":1.689,"y":1.109},{"l":0.4,"x":1.814,"y":0.988},{"l":0.4,"x":1.881,"y":0.859},{"l":0.4,"x":1.881,"y":0.730},{"l":0.4,"x":1.824,"y":0.596},{"l":0.4,"x":1.696,"y":0.499},{"l":0.4,"x":1.528,"y":0.452},{"l":0.4,"x":1.332,"y":0.452},{"l":0.4,"x":1.137,"y":0.538},{"l":0.4,"x":0.976,"y":0.673},{"l":0.4,"x":0.869,"y":0.831},{"l":0.4,"x":0.851,"y":1.018},{"l":0.4,"x":0.922,"y":1.218},
{"l":0.5,"x":1.102,"y":1.249},{"l":0.5,"x":1.302,"y":1.233},{"l":0.5,"x":1.502,"y":1.180},{"l":0.5,"x":1.668,"y":1.092},{"l":0.5,"x":1.785,"y":0.979},{"l":0.5,"x":1.848,"y":0.859},{"l":0.5,"x":1.848,"y":0.738},{"l":0.5,"x":1.794,"y":0.613},{"l":0.5,"x":1.675,"y":0.522},{"l":0.5,"x":1.518,"y":0.478},{"l":0.5,"x":1.335,"y":0.478},{"l":0.5,"x":1.152,"y":0.559},{"l":0.5,"x":1.003,"y":0.685},{"l":0.5,"x":0.903,"y":0.832},{"l":0.5,"x":0.886,"y":1.006},{"l":0.5,"x":0.952,"y":1.193},
{"l":0.6,"x":1.118,"y":1.226},{"l":0.6,"x":1.306,"y":1.211},{"l":0.6,"x":1.495,"y":1.161},{"l":0.6,"x":1.651,"y":1.078},{"l":0.6,"x":1.761,"y":0.971},{"l":0.6,"x":1.821,"y":0.858},{"l":0.6,"x":1.821,"y":0.744},{"l":0.6,"x":1.770,"y":0.626},{"l":0.6,"x":1.658,"y":0.540},{"l":0.6,"x":1.510,"y":0.500},{"l":0.6,"x":1.337,"y":0.500},{"l":0.6,"x":1.165,"y":0.575},{"l":0.6,"x":1.024,"y":0.694},{"l":0.6,"x":0.930,"y":0.833},{"l":0.6,"x":0.914,"y":0.997},{"l":0.6,"x":0.976,"y":1.173},
{"l":0.7,"x":1.129,"y":1.209},{"l":0.7,"x":1.309,"y":1.195},{"l":0.7,"x":1.489,"y":1.147},{"l":0.7,"x":1.638,"y":1.067},{"l":0.7,"x":1.744,"y":0.966},{"l":0.7,"x":1.800,"y":0.858},{"l":0.7,"x":1.800,"y":0.749},{"l":0.7,"x":1.752,"y":0.636},{"l":0.7,"x":1.645,"y":0.554},{"l":0.7,"x":1.504,"y":0.515},{"l":0.7,"x":1.339,"y":0.515},{"l":0.7,"x":1.175,"y":0.588},{"l":0.7,"x":1.040,"y":0.701},{"l":0.7,"x":0.950,"y":0.834},{"l":0.7,"x":0.935,"y":0.990},{"l":0.7,"x":0.995,"y":1.159},
{"l":0.8,"x":1.141,"y":1.192},{"l":0.8,"x":1.312,"y":1.178},{"l":0.8,"x":1.484,"y":1.132},{"l":0.8,"x":1.626,"y":1.057},{"l":0.8,"x":1.726,"y":0.960},{"l":0.8,"x":1.780,"y":0.857},{"l":0.8,"x":1.780,"y":0.754},{"l":0.8,"x":1.734,"y":0.646},{"l":0.8,"x":1.632,"y":0.568},{"l":0.8,"x":1.497,"y":0.531},{"l":0.8,"x":1.341,"y":0.531},{"l":0.8,"x":1.184,"y":0.600},{"l":0.8,"x":1.056,"y":0.708},{"l":0.8,"x":0.970,"y":0.834},{"l":0.8,"x":0.956,"y":0.984},{"l":0.8,"x":1.013,"y":1.144},
{"l":0.9,"x":1.151,"y":1.178},{"l":0.9,"x":1.315,"y":1.164},{"l":0.9,"x":1.479,"y":1.121},{"l":0.9,"x":1.615,"y":1.048},{"l":0.9,"x":1.711,"y":0.956},{"l":0.9,"x":1.763,"y":0.857},{"l":0.9,"x":1.763,"y":0.758},{"l":0.9,"x":1.719,"y":0.655},{"l":0.9,"x":1.621,"y":0.580},{"l":0.9,"x":1.492,"y":0.544},{"l":0.9,"x":1.342,"y":0.544},{"l":0.9,"x":1.192,"y":0.611},{"l":0.9,"x":1.069,"y":0.714},{"l":0.9,"x":0.987,"y":0.835},{"l":0.9,"x":0.973,"y":0.978},{"l":0.9,"x":1.028,"y":1.132},
{"l":1.0,"x":1.161,"y":1.163},{"l":1.0,"x":1.317,"y":1.151},{"l":1.0,"x":1.475,"y":1.109},{"l":1.0,"x":1.605,"y":1.039},{"l":1.0,"x":1.697,"y":0.951},{"l":1.0,"x":1.746,"y":0.856},{"l":1.0,"x":1.746,"y":0.762},{"l":1.0,"x":1.705,"y":0.663},{"l":1.0,"x":1.610,"y":0.592},{"l":1.0,"x":1.487,"y":0.558},{"l":1.0,"x":1.344,"y":0.558},{"l":1.0,"x":1.200,"y":0.621},{"l":1.0,"x":1.082,"y":0.720},{"l":1.0,"x":1.004,"y":0.835},{"l":1.0,"x":0.991,"y":0.972},{"l":1.0,"x":1.043,"y":1.119},
{"l":1.1,"x":1.170,"y":1.149},{"l":1.1,"x":1.320,"y":1.137},{"l":1.1,"x":1.470,"y":1.097},{"l":1.1,"x":1.595,"y":1.031},{"l":1.1,"x":1.682,"y":0.946},{"l":1.1,"x":1.729,"y":0.856},{"l":1.1,"x":1.729,"y":0.766},{"l":1.1,"x":1.690,"y":0.672},{"l":1.1,"x":1.600,"y":0.603},{"l":1.1,"x":1.482,"y":0.571},{"l":1.1,"x":1.345,"y":0.571},{"l":1.1,"x":1.208,"y":0.631},{"l":1.1,"x":1.096,"y":0.726},{"l":1.1,"x":1.021,"y":0.836},{"l":1.1,"x":1.008,"y":0.967},{"l":1.1,"x":1.058,"y":1.107},
{"l":1.2,"x":1.180,"y":1.135},{"l":1.2,"x":1.323,"y":1.123},{"l":1.2,"x":1.466,"y":1.085},{"l":1.2,"x":1.584,"y":1.022},{"l":1.2,"x":1.668,"y":0.942},{"l":1.2,"x":1.713,"y":0.856},{"l":1.2,"x":1.713,"y":0.770},{"l":1.2,"x":1.675,"y":0.680},{"l":1.2,"x":1.589,"y":0.615},{"l":1.2,"x":1.477,"y":0.584},{"l":1.2,"x":1.347,"y":0.584},{"l":1.2,"x":1.216,"y":0.642},{"l":1.2,"x":1.109,"y":0.732},{"l":1.2,"x":1.038,"y":0.837},{"l":1.2,"x":1.026,"y":0.961},{"l":1.2,"x":1.073,"y":1.095},
{"l":1.3,"x":1.188,"y":1.123},{"l":1.3,"x":1.325,"y":1.112},{"l":1.3,"x":1.462,"y":1.076},{"l":1.3,"x":1.576,"y":1.015},{"l":1.3,"x":1.656,"y":0.938},{"l":1.3,"x":1.699,"y":0.855},{"l":1.3,"x":1.699,"y":0.773},{"l":1.3,"x":1.663,"y":0.687},{"l":1.3,"x":1.580,"y":0.624},{"l":1.3,"x":1.473,"y":0.595},{"l":1.3,"x":1.348,"y":0.595},{"l":1.3,"x":1.222,"y":0.650},{"l":1.3,"x":1.120,"y":0.736},{"l":1.3,"x":1.051,"y":0.837},{"l":1.3,"x":1.040,"y":0.957},{"l":1.3,"x":1.085,"y":1.085},
{"l":1.4,"x":1.196,"y":1.112},{"l":1.4,"x":1.458,"y":1.066},{"l":1.4,"x":1.644,"y":0.934},{"l":1.4,"x":1.686,"y":0.776},{"l":1.4,"x":1.572,"y":0.634},{"l":1.4,"x":1.349,"y":0.605},{"l":1.4,"x":1.130,"y":0.741},{"l":1.4,"x":1.054,"y":0.952},
{"l":1.55,"x":1.207,"y":1.094},{"l":1.55,"x":1.453,"y":1.052},{"l":1.55,"x":1.627,"y":0.928},{"l":1.55,"x":1.665,"y":0.781},{"l":1.55,"x":1.559,"y":0.648},{"l":1.55,"x":1.351,"y":0.621},{"l":1.55,"x":1.146,"y":0.748},{"l":1.55,"x":1.074,"y":0.945},
{"l":1.7,"x":1.219,"y":1.077},{"l":1.7,"x":1.447,"y":1.038},{"l":1.7,"x":1.609,"y":0.923},{"l":1.7,"x":1.645,"y":0.785},{"l":1.7,"x":1.546,"y":0.662},{"l":1.7,"x":1.352,"y":0.637},{"l":1.7,"x":1.162,"y":0.755},{"l":1.7,"x":1.095,"y":0.938},
{"l":1.85,"x":1.229,"y":1.063},{"l":1.85,"x":1.443,"y":1.026},{"l":1.85,"x":1.594,"y":0.918},{"l":1.85,"x":1.628,"y":0.789},{"l":1.85,"x":1.536,"y":0.673},{"l":1.85,"x":1.354,"y":0.650},{"l":1.85,"x":1.176,"y":0.761},{"l":1.85,"x":1.113,"y":0.933},
{"l":2.0,"x":1.239,"y":1.049},{"l":2.0,"x":1.438,"y":1.014},{"l":2.0,"x":1.580,"y":0.914},{"l":2.0,"x":1.611,"y":0.793},{"l":2.0,"x":1.525,"y":0.685},{"l":2.0,"x":1.355,"y":0.663},{"l":2.0,"x":1.189,"y":0.766},{"l":2.0,"x":1.130,"y":0.927},
{"l":2.15,"x":1.248,"y":1.034},{"l":2.15,"x":1.434,"y":1.002},{"l":2.15,"x":1.565,"y":0.909},{"l":2.15,"x":1.594,"y":0.797},{"l":2.15,"x":1.514,"y":0.697},{"l":2.15,"x":1.357,"y":0.676},{"l":2.15,"x":1.202,"y":0.772},{"l":2.15,"x":1.148,"y":0.922},
{"l":2.3,"x":1.258,"y":1.020},{"l":2.3,"x":1.429,"y":0.990},{"l":2.3,"x":1.551,"y":0.904},{"l":2.3,"x":1.578,"y":0.801},{"l":2.3,"x":1.503,"y":0.708},{"l":2.3,"x":1.358,"y":0.690},{"l":2.3,"x":1.215,"y":0.778},{"l":2.3,"x":1.165,"y":0.916},
{"l":2.45,"x":1.266,"y":1.008},{"l":2.45,"x":1.426,"y":0.981},{"l":2.45,"x":1.539,"y":0.900},{"l":2.45,"x":1.564,"y":0.804},{"l":2.45,"x":1.495,"y":0.718},{"l":2.45,"x":1.359,"y":0.700},{"l":2.45,"x":1.226,"y":0.783},{"l":2.45,"x":1.179,"y":0.911},
{"l":2.6,"x":1.274,"y":0.997},{"l":2.6,"x":1.422,"y":0.971},{"l":2.6,"x":1.527,"y":0.897},{"l":2.6,"x":1.551,"y":0.807},{"l":2.6,"x":1.486,"y":0.727},{"l":2.6,"x":1.360,"y":0.711},{"l":2.6,"x":1.237,"y":0.787},{"l":2.6,"x":1.193,"y":0.907},
{"l":2.75,"x":1.283,"y":0.983},{"l":2.75,"x":1.418,"y":0.959},{"l":2.75,"x":1.513,"y":0.892},{"l":2.75,"x":1.534,"y":0.811},{"l":2.75,"x":1.476,"y":0.739},{"l":2.75,"x":1.362,"y":0.724},{"l":2.75,"x":1.250,"y":0.793},{"l":2.75,"x":1.211,"y":0.901},
{"l":2.9,"x":1.293,"y":0.968},{"l":2.9,"x":1.413,"y":0.948},{"l":2.9,"x":1.498,"y":0.887},{"l":2.9,"x":1.517,"y":0.815},{"l":2.9,"x":1.465,"y":0.750},{"l":2.9,"x":1.363,"y":0.737},{"l":2.9,"x":1.263,"y":0.799},{"l":2.9,"x":1.228,"y":0.896},
{"l":3.05,"x":1.303,"y":0.954},{"l":3.05,"x":1.409,"y":0.936},{"l":3.05,"x":1.483,"y":0.883},{"l":3.05,"x":1.500,"y":0.819},{"l":3.05,"x":1.454,"y":0.762},{"l":3.05,"x":1.365,"y":0.750},{"l":3.05,"x":1.277,"y":0.805},{"l":3.05,"x":1.246,"y":0.890},
{"l":3.2,"x":1.313,"y":0.940},{"l":3.2,"x":1.404,"y":0.924},{"l":3.2,"x":1.469,"y":0.878},{"l":3.2,"x":1.483,"y":0.823},{"l":3.2,"x":1.444,"y":0.773},{"l":3.2,"x":1.366,"y":0.764},{"l":3.2,"x":1.290,"y":0.811},{"l":3.2,"x":1.263,"y":0.884},
{"l":3.35,"x":1.324,"y":0.923},{"l":3.35,"x":1.399,"y":0.910},{"l":3.35,"x":1.451,"y":0.872},{"l":3.35,"x":1.463,"y":0.828},{"l":3.35,"x":1.431,"y":0.787},{"l":3.35,"x":1.368,"y":0.779},{"l":3.35,"x":1.306,"y":0.818},{"l":3.35,"x":1.284,"y":0.877},
{"l":3.5,"x":1.336,"y":0.905},{"l":3.5,"x":1.393,"y":0.895},{"l":3.5,"x":1.434,"y":0.867},{"l":3.5,"x":1.443,"y":0.832},{"l":3.5,"x":1.418,"y":0.801},{"l":3.5,"x":1.369,"y":0.795},{"l":3.5,"x":1.322,"y":0.825},{"l":3.5,"x":1.305,"y":0.871}
],
"red": [
{"z":"u","x":-0.648,"y":1.392},{"z":"u","x":-0.386,"y":1.378},{"z":"u","x":-0.160,"y":1.326},{"z":"u","x":0.066,"y":1.225},{"z":"u","x":0.269,"y":1.054},{"z":"u","x":0.427,"y":0.905},{"z":"u","x":0.463,"y":0.723},{"z":"u","x":0.368,"y":0.545},{"z":"u","x":0.179,"y":0.396},{"z":"u","x":-0.115,"y":0.342},{"z":"u","x":-0.408,"y":0.375},{"z":"u","x":-0.656,"y":0.491},{"z":"u","x":-0.860,"y":0.662},{"z":"u","x":-0.973,"y":0.880},{"z":"u","x":-0.996,"y":1.133},{"z":"u","x":-0.883,"y":1.341},
{"z":"b","x":0.487,"y":1.375},{"z":"b","x":0.750,"y":1.319},{"z":"b","x":0.946,"y":1.242},{"z":"b","x":1.112,"y":1.105},{"z":"b","x":1.231,"y":0.968},{"z":"b","x":1.309,"y":0.806},{"z":"b","x":1.274,"y":0.651},{"z":"b","x":1.187,"y":0.503},{"z":"b","x":0.990,"y":0.381},{"z":"b","x":0.750,"y":0.360},{"z":"b","x":0.553,"y":0.458},{"z":"b","x":0.378,"y":0.616},{"z":"b","x":0.246,"y":0.792},{"z":"b","x":0.181,"y":1.003},{"z":"b","x":0.203,"y":1.214},{"z":"b","x":0.290,"y":1.326},
{"z":"p","x":1.012,"y":1.381},{"z":"p","x":1.277,"y":1.360},{"z":"p","x":1.543,"y":1.289},{"z":"p","x":1.764,"y":1.172},{"z":"p","x":1.919,"y":1.022},{"z":"p","x":2.003,"y":0.862},{"z":"p","x":2.003,"y":0.702},{"z":"p","x":1.932,"y":0.536},{"z":"p","x":1.773,"y":0.415},{"z":"p","x":1.565,"y":0.357},{"z":"p","x":1.322,"y":0.357},{"z":"p","x":1.079,"y":0.464},{"z":"p","x":0.880,"y":0.631},{"z":"p","x":0.747,"y":0.827},{"z":"p","x":0.725,"y":1.058},{"z":"p","x":0.813,"y":1.307}
],
"sq": [
{"x":-0.844,"y":1.348},{"x":0.235,"y":0.446},{"x":0.339,"y":1.348},{"x":1.104,"y":0.446},{"x":0.895,"y":1.348},{"x":1.808,"y":0.461}
],
"lab": [
{"g":"r","t":"0.138","x":-0.616,"y":1.388},{"g":"r","t":"0.172","x":0.786,"y":0.362},{"g":"r","t":"0.16","x":1.404,"y":0.356},{"g":"u","t":"0.1","x":-0.217,"y":0.322},{"g":"b","t":"0.1","x":0.781,"y":0.320},{"g":"p","t":"0.1","x":1.399,"y":0.318}
],
"fb": [
{"x":0.10,"z":"urban zone","lo":0.13,"hi":0.82},{"x":0.10,"z":"border zone","lo":0.39,"hi":1.94},{"x":0.10,"z":"periurban zone","lo":0.67,"hi":3.94},
{"x":0.15,"z":"urban zone","lo":0.12,"hi":0.80},{"x":0.15,"z":"border zone","lo":0.36,"hi":1.90},{"x":0.15,"z":"periurban zone","lo":0.63,"hi":3.85},
{"x":0.20,"z":"urban zone","lo":0.13,"hi":0.82},{"x":0.20,"z":"border zone","lo":0.39,"hi":1.94},{"x":0.20,"z":"periurban zone","lo":0.67,"hi":3.94},
{"x":0.25,"z":"urban zone","lo":0.15,"hi":0.87},{"x":0.25,"z":"border zone","lo":0.47,"hi":2.07},{"x":0.25,"z":"periurban zone","lo":0.81,"hi":4.21},
{"x":0.30,"z":"urban zone","lo":0.21,"hi":0.96},{"x":0.30,"z":"border zone","lo":0.64,"hi":2.29},{"x":0.30,"z":"periurban zone","lo":1.10,"hi":4.66},
{"x":0.35,"z":"urban zone","lo":0.30,"hi":1.09},{"x":0.35,"z":"border zone","lo":0.98,"hi":2.60},{"x":0.35,"z":"periurban zone","lo":1.60,"hi":5.30},
{"x":0.40,"z":"urban zone","lo":0.45,"hi":1.26},{"x":0.40,"z":"border zone","lo":1.50,"hi":2.99},{"x":0.40,"z":"periurban zone","lo":2.50,"hi":6.11},
{"x":0.45,"z":"urban zone","lo":0.67,"hi":1.44},{"x":0.45,"z":"border zone","lo":2.20,"hi":3.44},{"x":0.45,"z":"periurban zone","lo":3.60,"hi":7.05},
{"x":0.50,"z":"urban zone","lo":0.96,"hi":1.64},{"x":0.50,"z":"border zone","lo":3.10,"hi":3.90},{"x":0.50,"z":"periurban zone","lo":5.25,"hi":8.02},
{"x":0.55,"z":"urban zone","lo":1.29,"hi":1.81},{"x":0.55,"z":"border zone","lo":4.18,"hi":4.31},{"x":0.55,"z":"periurban zone","lo":7.15,"hi":8.88},
{"x":0.60,"z":"urban zone","lo":1.55,"hi":1.93},{"x":0.60,"z":"border zone","lo":5.07,"hi":4.60},{"x":0.60,"z":"periurban zone","lo":8.75,"hi":9.48},
{"x":0.65,"z":"urban zone","lo":1.65,"hi":1.97},{"x":0.65,"z":"border zone","lo":5.42,"hi":4.70},{"x":0.65,"z":"periurban zone","lo":9.39,"hi":9.70},
{"x":0.70,"z":"urban zone","lo":1.55,"hi":1.93},{"x":0.70,"z":"border zone","lo":5.07,"hi":4.60},{"x":0.70,"z":"periurban zone","lo":8.75,"hi":9.48},
{"x":0.75,"z":"urban zone","lo":1.29,"hi":1.81},{"x":0.75,"z":"border zone","lo":4.18,"hi":4.31},{"x":0.75,"z":"periurban zone","lo":7.15,"hi":8.88},
{"x":0.80,"z":"urban zone","lo":0.96,"hi":1.64},{"x":0.80,"z":"border zone","lo":3.10,"hi":3.90},{"x":0.80,"z":"periurban zone","lo":5.25,"hi":8.02},
{"x":0.85,"z":"urban zone","lo":0.67,"hi":1.44},{"x":0.85,"z":"border zone","lo":2.20,"hi":3.44},{"x":0.85,"z":"periurban zone","lo":3.60,"hi":7.05},
{"x":0.90,"z":"urban zone","lo":0.45,"hi":1.26},{"x":0.90,"z":"border zone","lo":1.50,"hi":2.99},{"x":0.90,"z":"periurban zone","lo":2.50,"hi":6.11},
{"x":0.95,"z":"urban zone","lo":0.30,"hi":1.09},{"x":0.95,"z":"border zone","lo":0.98,"hi":2.60},{"x":0.95,"z":"periurban zone","lo":1.60,"hi":5.30},
{"x":1.00,"z":"urban zone","lo":0.21,"hi":0.96},{"x":1.00,"z":"border zone","lo":0.64,"hi":2.29},{"x":1.00,"z":"periurban zone","lo":1.10,"hi":4.66},
{"x":1.05,"z":"urban zone","lo":0.15,"hi":0.87},{"x":1.05,"z":"border zone","lo":0.47,"hi":2.07},{"x":1.05,"z":"periurban zone","lo":0.81,"hi":4.21},
{"x":1.10,"z":"urban zone","lo":0.13,"hi":0.82},{"x":1.10,"z":"border zone","lo":0.39,"hi":1.94},{"x":1.10,"z":"periurban zone","lo":0.67,"hi":3.94},
{"x":1.15,"z":"urban zone","lo":0.12,"hi":0.80},{"x":1.15,"z":"border zone","lo":0.36,"hi":1.90},{"x":1.15,"z":"periurban zone","lo":0.63,"hi":3.85},
{"x":1.20,"z":"urban zone","lo":0.13,"hi":0.82},{"x":1.20,"z":"border zone","lo":0.39,"hi":1.94},{"x":1.20,"z":"periurban zone","lo":0.67,"hi":3.94},
{"x":1.25,"z":"urban zone","lo":0.15,"hi":0.87},{"x":1.25,"z":"border zone","lo":0.47,"hi":2.07},{"x":1.25,"z":"periurban zone","lo":0.81,"hi":4.21},
{"x":1.30,"z":"urban zone","lo":0.21,"hi":0.96},{"x":1.30,"z":"border zone","lo":0.64,"hi":2.29},{"x":1.30,"z":"periurban zone","lo":1.10,"hi":4.66},
{"x":1.35,"z":"urban zone","lo":0.30,"hi":1.09},{"x":1.35,"z":"border zone","lo":0.98,"hi":2.60},{"x":1.35,"z":"periurban zone","lo":1.60,"hi":5.30},
{"x":1.40,"z":"urban zone","lo":0.45,"hi":1.26},{"x":1.40,"z":"border zone","lo":1.50,"hi":2.99},{"x":1.40,"z":"periurban zone","lo":2.50,"hi":6.11},
{"x":1.45,"z":"urban zone","lo":0.67,"hi":1.44},{"x":1.45,"z":"border zone","lo":2.20,"hi":3.44},{"x":1.45,"z":"periurban zone","lo":3.60,"hi":7.05},
{"x":1.50,"z":"urban zone","lo":0.96,"hi":1.64},{"x":1.50,"z":"border zone","lo":3.10,"hi":3.90},{"x":1.50,"z":"periurban zone","lo":5.25,"hi":8.02},
{"x":1.55,"z":"urban zone","lo":1.29,"hi":1.81},{"x":1.55,"z":"border zone","lo":4.18,"hi":4.31},{"x":1.55,"z":"periurban zone","lo":7.15,"hi":8.88},
{"x":1.60,"z":"urban zone","lo":1.55,"hi":1.93},{"x":1.60,"z":"border zone","lo":5.07,"hi":4.60},{"x":1.60,"z":"periurban zone","lo":8.75,"hi":9.48},
{"x":1.65,"z":"urban zone","lo":1.65,"hi":1.97},{"x":1.65,"z":"border zone","lo":5.42,"hi":4.70},{"x":1.65,"z":"periurban zone","lo":9.39,"hi":9.70},
{"x":1.70,"z":"urban zone","lo":1.55,"hi":1.93},{"x":1.70,"z":"border zone","lo":5.07,"hi":4.60},{"x":1.70,"z":"periurban zone","lo":8.75,"hi":9.48},
{"x":1.75,"z":"urban zone","lo":1.29,"hi":1.81},{"x":1.75,"z":"border zone","lo":4.18,"hi":4.31},{"x":1.75,"z":"periurban zone","lo":7.15,"hi":8.88},
{"x":1.80,"z":"urban zone","lo":0.96,"hi":1.64},{"x":1.80,"z":"border zone","lo":3.10,"hi":3.90},{"x":1.80,"z":"periurban zone","lo":5.25,"hi":8.02},
{"x":1.85,"z":"urban zone","lo":0.67,"hi":1.44},{"x":1.85,"z":"border zone","lo":2.20,"hi":3.44},{"x":1.85,"z":"periurban zone","lo":3.60,"hi":7.05},
{"x":1.90,"z":"urban zone","lo":0.45,"hi":1.26},{"x":1.90,"z":"border zone","lo":1.50,"hi":2.99},{"x":1.90,"z":"periurban zone","lo":2.50,"hi":6.11},
{"x":1.95,"z":"urban zone","lo":0.30,"hi":1.09},{"x":1.95,"z":"border zone","lo":0.98,"hi":2.60},{"x":1.95,"z":"periurban zone","lo":1.60,"hi":5.30},
{"x":2.00,"z":"urban zone","lo":0.21,"hi":0.96},{"x":2.00,"z":"border zone","lo":0.64,"hi":2.29},{"x":2.00,"z":"periurban zone","lo":1.10,"hi":4.66},
{"x":2.05,"z":"urban zone","lo":0.15,"hi":0.87},{"x":2.05,"z":"border zone","lo":0.47,"hi":2.07},{"x":2.05,"z":"periurban zone","lo":0.81,"hi":4.21},
{"x":2.10,"z":"urban zone","lo":0.13,"hi":0.82},{"x":2.10,"z":"border zone","lo":0.39,"hi":1.94},{"x":2.10,"z":"periurban zone","lo":0.67,"hi":3.94},
{"x":2.15,"z":"urban zone","lo":0.12,"hi":0.80},{"x":2.15,"z":"border zone","lo":0.36,"hi":1.90},{"x":2.15,"z":"periurban zone","lo":0.63,"hi":3.85},
{"x":2.20,"z":"urban zone","lo":0.13,"hi":0.82},{"x":2.20,"z":"border zone","lo":0.39,"hi":1.94},{"x":2.20,"z":"periurban zone","lo":0.67,"hi":3.94},
{"x":2.25,"z":"urban zone","lo":0.15,"hi":0.87},{"x":2.25,"z":"border zone","lo":0.47,"hi":2.07},{"x":2.25,"z":"periurban zone","lo":0.81,"hi":4.21},
{"x":2.30,"z":"urban zone","lo":0.21,"hi":0.96},{"x":2.30,"z":"border zone","lo":0.64,"hi":2.29},{"x":2.30,"z":"periurban zone","lo":1.10,"hi":4.66},
{"x":2.35,"z":"urban zone","lo":0.30,"hi":1.09},{"x":2.35,"z":"border zone","lo":0.98,"hi":2.60},{"x":2.35,"z":"periurban zone","lo":1.60,"hi":5.30},
{"x":2.40,"z":"urban zone","lo":0.45,"hi":1.26},{"x":2.40,"z":"border zone","lo":1.50,"hi":2.99},{"x":2.40,"z":"periurban zone","lo":2.50,"hi":6.11},
{"x":2.45,"z":"urban zone","lo":0.67,"hi":1.44},{"x":2.45,"z":"border zone","lo":2.20,"hi":3.44},{"x":2.45,"z":"periurban zone","lo":3.60,"hi":7.05},
{"x":2.50,"z":"urban zone","lo":0.96,"hi":1.64},{"x":2.50,"z":"border zone","lo":3.10,"hi":3.90},{"x":2.50,"z":"periurban zone","lo":5.25,"hi":8.02},
{"x":2.55,"z":"urban zone","lo":1.29,"hi":1.81},{"x":2.55,"z":"border zone","lo":4.18,"hi":4.31},{"x":2.55,"z":"periurban zone","lo":7.15,"hi":8.88},
{"x":2.60,"z":"urban zone","lo":1.55,"hi":1.93},{"x":2.60,"z":"border zone","lo":5.07,"hi":4.60},{"x":2.60,"z":"periurban zone","lo":8.75,"hi":9.48},
{"x":2.65,"z":"urban zone","lo":1.65,"hi":1.97},{"x":2.65,"z":"border zone","lo":5.42,"hi":4.70},{"x":2.65,"z":"periurban zone","lo":9.39,"hi":9.70},
{"x":2.70,"z":"urban zone","lo":1.55,"hi":1.93},{"x":2.70,"z":"border zone","lo":5.07,"hi":4.60},{"x":2.70,"z":"periurban zone","lo":8.75,"hi":9.48},
{"x":2.75,"z":"urban zone","lo":1.29,"hi":1.81},{"x":2.75,"z":"border zone","lo":4.18,"hi":4.31},{"x":2.75,"z":"periurban zone","lo":7.15,"hi":8.88},
{"x":2.80,"z":"urban zone","lo":0.96,"hi":1.64},{"x":2.80,"z":"border zone","lo":3.10,"hi":3.90},{"x":2.80,"z":"periurban zone","lo":5.25,"hi":8.02},
{"x":2.85,"z":"urban zone","lo":0.67,"hi":1.44},{"x":2.85,"z":"border zone","lo":2.20,"hi":3.44},{"x":2.85,"z":"periurban zone","lo":3.60,"hi":7.05},
{"x":2.90,"z":"urban zone","lo":0.45,"hi":1.26},{"x":2.90,"z":"border zone","lo":1.50,"hi":2.99},{"x":2.90,"z":"periurban zone","lo":2.50,"hi":6.11}
]
},
"vconcat": [
{
  "title": {"text": "(a)", "offset": 5},
  "width": 682, "height": 423,
  "encoding": {
    "x": {"field": "x", "type": "quantitative", "scale": {"domain": [-1.12, 2.12], "nice": false, "zero": false},
          "axis": {"values": [-1, -0.5, 0, 0.5, 1, 1.5, 2], "labelExpr": "replace(format(datum.value, '.1f'), '\u2212', '-')", "labelPadding": 2, "title": "β₀", "titleFontSize": 30, "titlePadding": 6}},
    "y": {"field": "y", "type": "quantitative", "scale": {"domain": [-0.06, 1.56], "nice": false, "zero": false},
          "axis": {"values": [0, 0.5, 1, 1.5], "format": ".1f", "labelPadding": 7, "title": "β₁", "titleFontSize": 32, "titlePadding": 18}}
  },
  "layer": [
    {"data": {"name": "b"}, "mark": {"type": "line", "interpolate": "cardinal-closed", "strokeWidth": 1, "color": "#BEBEBE"},
     "encoding": {"detail": {"field": "l", "type": "nominal"}, "order": {"value": null}}},
    {"data": {"name": "red"}, "transform": [{"filter": {"field": "z", "equal": "b"}}], "mark": {"type": "line", "interpolate": "cardinal-closed", "strokeWidth": 1.3, "color": "#EE0000"},
     "encoding": {"detail": {"field": "z", "type": "nominal"}, "order": {"value": null}}},
    {"data": {"name": "u"}, "mark": {"type": "line", "interpolate": "cardinal-closed", "strokeWidth": 1, "color": "#FFA500"},
     "encoding": {"detail": {"field": "l", "type": "nominal"}, "order": {"value": null}}},
    {"data": {"name": "red"}, "transform": [{"filter": {"field": "z", "equal": "u"}}], "mark": {"type": "line", "interpolate": "cardinal-closed", "strokeWidth": 1.3, "color": "#EE0000"},
     "encoding": {"detail": {"field": "z", "type": "nominal"}, "order": {"value": null}}},
    {"data": {"name": "p"}, "mark": {"type": "line", "interpolate": "cardinal-closed", "strokeWidth": 1, "color": "#00E600"},
     "encoding": {"detail": {"field": "l", "type": "nominal"}, "order": {"value": null}}},
    {"data": {"name": "red"}, "transform": [{"filter": {"field": "z", "equal": "p"}}], "mark": {"type": "line", "interpolate": "cardinal-closed", "strokeWidth": 1.3, "color": "#EE0000"},
     "encoding": {"detail": {"field": "z", "type": "nominal"}, "order": {"value": null}}},
    {"data": {"name": "lab"}, "mark": {"type": "text", "fontSize": 8, "fill": "white", "stroke": "white", "strokeWidth": 4},
     "encoding": {"text": {"field": "t"}}},
    {"data": {"name": "lab"}, "mark": {"type": "text", "fontSize": 8},
     "encoding": {"text": {"field": "t"}, "color": {"field": "g", "type": "nominal", "scale": {"domain": ["r", "u", "b", "p"], "range": ["#EE0000", "#FFA500", "#BEBEBE", "#00E600"]}, "legend": null}}},
    {"data": {"name": "sq"}, "mark": {"type": "square", "size": 40, "color": "#FF0000", "opacity": 1}}
  ]
},
{
  "title": {"text": "(b)", "offset": 8},
  "width": 682, "height": 424,
  "data": {"name": "fb"},
  "transform": [{"fold": ["lo", "hi"], "as": ["bound", "v"]}],
  "mark": {"type": "line", "interpolate": "monotone", "strokeWidth": 2.2},
  "encoding": {
    "x": {"field": "x", "type": "quantitative", "scale": {"domain": [0.1, 2.9], "nice": false, "zero": false},
          "axis": {"values": [0.5, 1, 1.5, 2, 2.5], "format": ".1f", "labelPadding": 7, "title": "Age of fox (years)", "titlePadding": 14}},
    "y": {"field": "v", "type": "quantitative", "scale": {"domain": [-0.44, 11.44], "nice": false, "zero": false},
          "axis": {"values": [0, 2, 4, 6, 8, 10], "format": "d", "labelPadding": 6, "title": "Force of infection (insults/year)", "titlePadding": 20}},
    "color": {"field": "z", "type": "nominal", "scale": {"domain": ["urban zone", "border zone", "periurban zone"], "range": ["#FFA500", "#BEBEBE", "#00E600"]},
              "legend": {"title": "Model-based approx 95% CIs", "titleOrient": "left", "titleAnchor": "start", "orient": "none", "legendX": 23, "legendY": 6,
                         "symbolType": "M-2.2,0H2.2", "symbolSize": 100, "symbolStrokeWidth": 1.3, "labelFontSize": 12.5, "titleFontSize": 12.5,
                         "titleFontWeight": "normal", "titleColor": "#000", "labelColor": "#000", "titlePadding": 22, "rowPadding": 1, "labelOffset": 14, "padding": 0}},
    "detail": {"field": "bound", "type": "nominal"}
  }
}
]
}
